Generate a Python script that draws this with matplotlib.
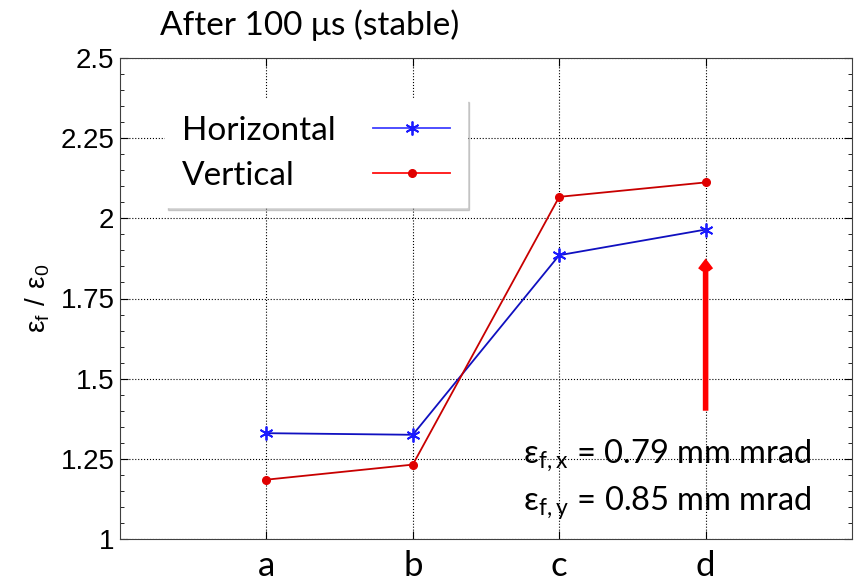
import numpy as np
import matplotlib.pyplot as plt
from matplotlib.ticker import MultipleLocator

# data
categories = ['a', 'b', 'c', 'd']
horizontal = [1.33, 1.325, 1.885, 1.965]
vertical = [1.185, 1.232, 2.067, 2.112]
yticks = [1, 1.25, 1.5, 1.75, 2, 2.25, 2.5]
ytick_labels = ['1', '1.25', '1.5', '1.75', '2', '2.25', '2.5']
arrow_from = 1.40
arrow_to = 1.875
notes = ['0.79 mm mrad', '0.85 mm mrad']

plt.rcParams['font.family'] = ['Liberation Sans', 'DejaVu Sans']
plt.rcParams['mathtext.fontset'] = 'dejavusans'
callig = ['Lato', 'DejaVu Sans']

fig = plt.figure(figsize=(8.55, 5.82), dpi=100)
ax = fig.add_axes([120 / 855, 1 - 539 / 582, 732 / 855, 481 / 582])

x = np.arange(1, len(categories) + 1)
ax.plot(x, horizontal, color='#1010c0', lw=1.3, marker=(6, 2, 0), ms=10,
        mew=1.3, mfc='#1a1aff', mec='#1a1aff', label='Horizontal')
ax.plot(x, vertical, color='#c80000', lw=1.3, marker='.', ms=11,
        mfc='#e00000', mec='#e00000', label='Vertical')

ax.set_xlim(0, 5)
ax.set_ylim(1, 2.5)
ax.set_xticks(x)
ax.set_xticklabels(categories, family=callig, fontsize=25)
ax.set_yticks(yticks)
ax.set_yticklabels(ytick_labels, fontsize=20)
ax.yaxis.set_minor_locator(MultipleLocator(0.05))
ax.tick_params(which='both', direction='in', top=True, right=True)
ax.tick_params(which='major', length=6, width=0.8)
ax.tick_params(which='minor', length=3, width=0.6)
ax.tick_params(axis='x', pad=8)
ax.tick_params(axis='y', pad=4)
ax.grid(True, which='major', linestyle=':', color='k', lw=0.8)
for s in ax.spines.values():
    s.set_color('#404040')

ax.set_ylabel(r'$\mathregular{\varepsilon_f\ /\ \varepsilon_0}$', fontsize=20, labelpad=6)
fig.text(160 / 855, 1 - 25 / 582, 'After 100 \u03bcs (stable)', fontsize=24,
         family=callig, va='center', ha='left')

leg = ax.legend(loc='upper left', bbox_to_anchor=(0.062, 0.915),
                markerfirst=False, fancybox=False,
                shadow={'color': '0.6', 'alpha': 0.45},
                prop={'family': callig, 'size': 24},
                handlelength=2.3, borderpad=0.5, labelspacing=0.45,
                handletextpad=1.0, edgecolor='white', framealpha=1,
                borderaxespad=0)
leg.get_lines()[0].set_color('#4040ff')
leg.get_lines()[1].set_color('#ff1010')
# text left aligned, handles lined up on the right
for col in leg._legend_handle_box.get_children():
    col.align = 'left'
    col.width = 268
    for row in col.get_children():
        row.mode = 'expand'

ax.annotate('', xy=(4, arrow_to), xytext=(4, arrow_from),
            arrowprops=dict(arrowstyle='->,head_length=0.5,head_width=0.38',
                            color='#ff0000', lw=4, shrinkA=0, shrinkB=0,
                            joinstyle='miter', capstyle='butt'))

for i, (sub, txt) in enumerate(zip(['f,x', 'f,y'], notes)):
    ax.text((523 - 120) / 732, (539 - 456 - i * 47) / 481,
            '\u03b5$_{\\mathregular{' + sub + '}}$ = ' + txt,
            transform=ax.transAxes, fontsize=23.5, ha='left', va='center',
            family=callig)

fig.savefig('out.png', dpi=100, facecolor='white')
